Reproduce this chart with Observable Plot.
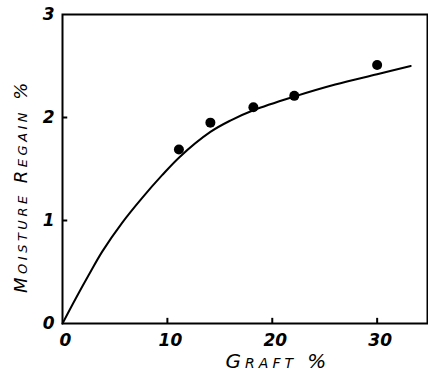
<!DOCTYPE html>
<html><head><meta charset="utf-8">
<script src="https://cdn.jsdelivr.net/npm/d3@7"></script>
<script src="https://cdn.jsdelivr.net/npm/@observablehq/plot@0.6"></script>
<style>
body{margin:0;background:#fff;}
svg{font-family:"DejaVu Sans",sans-serif;}
.xt text{letter-spacing:4px;}
.yt text{letter-spacing:3.5px;}
</style></head>
<body><div id="chart"></div>
<script>
// measured points
const graftPts = [11.1, 14.1, 18.2, 22.1, 30.0];
const regainPts = [1.69, 1.95, 2.10, 2.21, 2.51];
// fitted curve
const graftCurve = [0, 1.25, 2.5, 3.8, 5.7, 7.6, 9.5, 11.2, 14.1, 16, 18.2, 22, 26, 30, 33.2];
const regainCurve = [0, 0.24, 0.47, 0.70, 0.98, 1.22, 1.44, 1.62, 1.86, 1.97, 2.07, 2.20, 2.32, 2.42, 2.50];
const xTicks = [0, 10, 20, 30];
const yTicks = [0, 1, 2, 3];
const xTitle = "Graft %";
const yTitle = "Moisture Regain %";

const pts = graftPts.map((g, i) => ({g, r: regainPts[i]}));
const curve = graftCurve.map((g, i) => ({g, r: regainCurve[i]}));

const chart = Plot.plot({
  width: 428, height: 380,
  marginLeft: 62, marginRight: 1, marginTop: 14, marginBottom: 57,
  x: {domain: [0, 34.8]},
  y: {domain: [0, 3]},
  style: {background: "#fff", color: "#000"},
  marks: [
    Plot.frame({stroke: "#000", strokeWidth: 2}),
    Plot.axisX(xTicks, {tickSize: 0, tickPadding: 10, tickFormat: "d", fontSize: 17, fontStyle: "italic", fontWeight: "bold", label: null, dx: 3}),
    Plot.ruleX(xTicks.filter(d => d > 0), {y1: 0, y2: 0.05, stroke: "#000", strokeWidth: 2}),
    Plot.axisY(yTicks, {tickSize: 0, tickPadding: 8, tickFormat: "d", fontSize: 17, fontStyle: "italic", fontWeight: "bold", label: null}),
    Plot.ruleY(yTicks.filter(d => d > 0 && d < 3), {x1: 0, x2: 0.5, stroke: "#000", strokeWidth: 2}),
    Plot.line(curve, {x: "g", y: "r", curve: "catmull-rom", stroke: "#000", strokeWidth: 2}),
    Plot.dot(pts, {x: "g", y: "r", r: 5, fill: "#000"}),
    Plot.text([xTitle], {className: "xt", frameAnchor: "bottom", dy: 44, dx: 33, fontSize: 20, fontStyle: "italic", fontVariant: "small-caps", textDecoration: "underline"}),
    Plot.text([yTitle], {className: "yt", frameAnchor: "left", textAnchor: "middle", dx: -41, dy: 17, rotate: -90, fontSize: 18, fontStyle: "italic", fontVariant: "small-caps"})
  ]
});
document.getElementById("chart").appendChild(chart);
</script></body></html>
